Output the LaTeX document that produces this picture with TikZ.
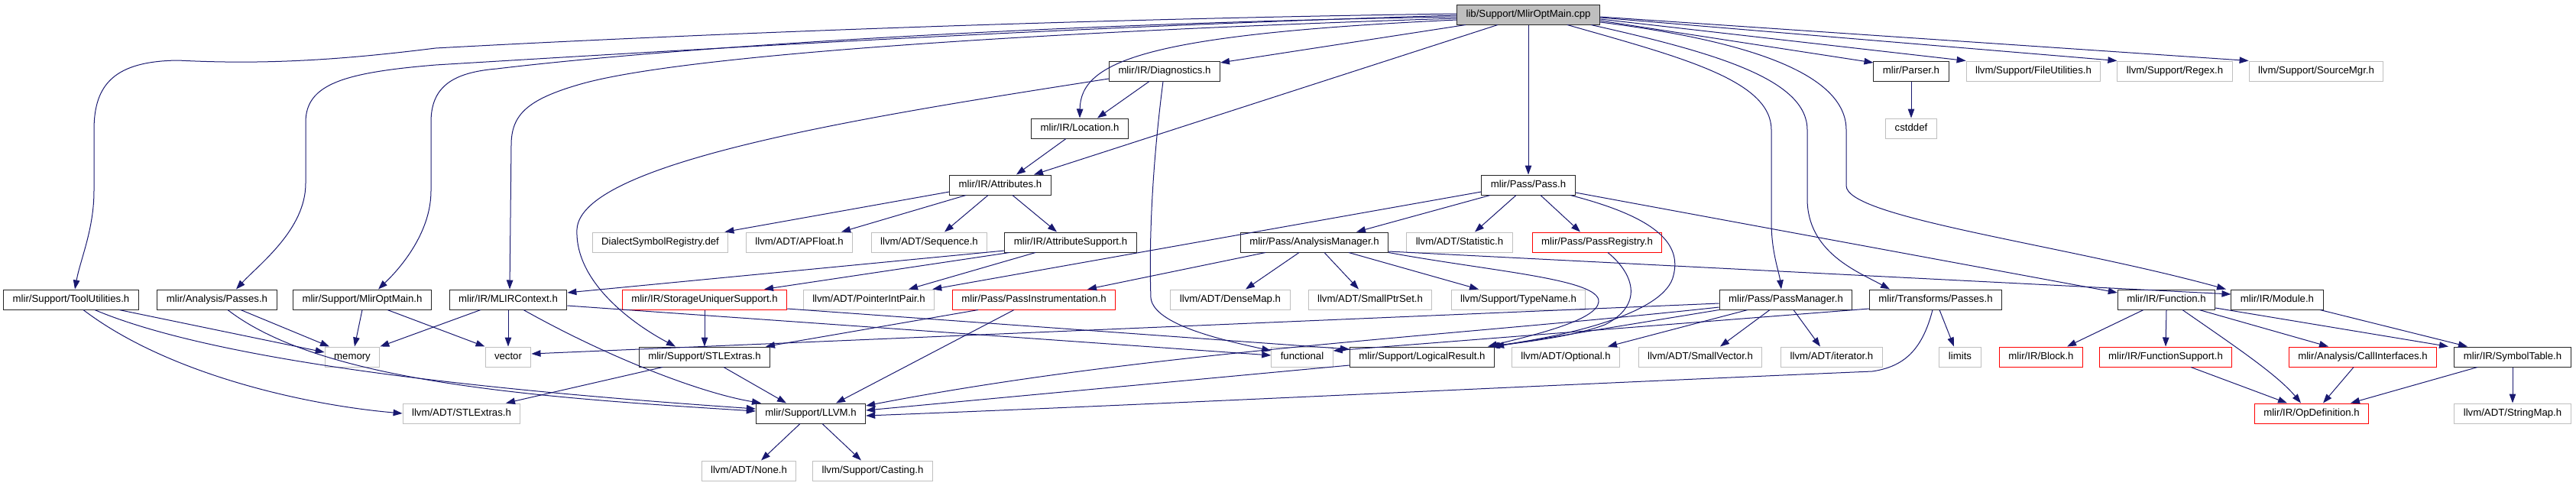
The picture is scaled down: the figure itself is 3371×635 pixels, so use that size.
\documentclass[tikz,border=0pt]{standalone}
\usepackage{fontspec}
\setmainfont{Liberation Sans}
\usetikzlibrary{arrows.meta}
\definecolor{edgecol}{HTML}{191970}
\definecolor{extgray}{HTML}{BFBFBF}
\begin{document}
\begin{tikzpicture}[x=1pt,y=-1pt,
  box/.style={rectangle, line width=1pt, inner xsep=12pt, inner ysep=0pt, minimum height=26pt,
    text height=9.6pt, text depth=2.6pt, font=\fontsize{13.2}{15}\selectfont},
  docn/.style={box, draw=black!85},
  extn/.style={box, draw=extgray},
  trn/.style={box, draw=red},
  rootn/.style={box, draw=black!85, fill=extgray},
  dep/.style={draw=edgecol, line width=1pt, -{Triangle[length=12pt,width=8.5pt]}}
]
\useasboundingbox (0,0) rectangle (3371,635);
% row 0
\node[rootn] (root) at (2000,19) {lib/Support/MlirOptMain.cpp};
% row 1
\node[docn] (diag) at (1524,93) {mlir/IR/Diagnostics.h};
\node[docn] (parser) at (2501,93) {mlir/Parser.h};
\node[extn] (fileutil) at (2661,93) {llvm/Support/FileUtilities.h};
\node[extn] (regex) at (2846,93) {llvm/Support/Regex.h};
\node[extn] (srcmgr) at (3031,93) {llvm/Support/SourceMgr.h};
% row 2
\node[docn] (loc) at (1413,168) {mlir/IR/Location.h};
\node[extn] (cstddef) at (2501,168) {cstddef};
% row 3
\node[docn] (attr) at (1309,242) {mlir/IR/Attributes.h};
\node[docn] (pass) at (2000,242) {mlir/Pass/Pass.h};
% row 4
\node[extn] (dsr) at (864,317) {DialectSymbolRegistry.def};
\node[extn] (apfloat) at (1046,317) {llvm/ADT/APFloat.h};
\node[extn] (seq) at (1216,317) {llvm/ADT/Sequence.h};
\node[docn] (attrsup) at (1401,317) {mlir/IR/AttributeSupport.h};
\node[docn] (anman) at (1720,317) {mlir/Pass/AnalysisManager.h};
\node[extn] (stat) at (1910,317) {llvm/ADT/Statistic.h};
\node[trn] (passreg) at (2090,317) {mlir/Pass/PassRegistry.h};
% row 5
\node[docn] (toolutil) at (93,392) {mlir/Support/ToolUtilities.h};
\node[docn] (anpasses) at (284,392) {mlir/Analysis/Passes.h};
\node[docn] (optmainh) at (474,392) {mlir/Support/MlirOptMain.h};
\node[docn] (ctx) at (665,392) {mlir/IR/MLIRContext.h};
\node[trn] (sus) at (922,392) {mlir/IR/StorageUniquerSupport.h};
\node[extn] (pip) at (1137,392) {llvm/ADT/PointerIntPair.h};
\node[trn] (pinst) at (1353,392) {mlir/Pass/PassInstrumentation.h};
\node[extn] (densemap) at (1610,392) {llvm/ADT/DenseMap.h};
\node[extn] (smallptr) at (1793,392) {llvm/ADT/SmallPtrSet.h};
\node[extn] (typename) at (1987,392) {llvm/Support/TypeName.h};
\node[docn] (passman) at (2337,392) {mlir/Pass/PassManager.h};
\node[docn] (tpasses) at (2533,392) {mlir/Transforms/Passes.h};
\node[docn] (func) at (2835,392) {mlir/IR/Function.h};
\node[docn] (module) at (2980,392) {mlir/IR/Module.h};
% row 6
\node[extn] (memory) at (461,467) {memory};
\node[extn] (vector) at (665,467) {vector};
\node[docn] (mstl) at (922,467) {mlir/Support/STLExtras.h};
\node[extn] (functional) at (1704,467) {functional};
\node[docn] (logres) at (1861,467) {mlir/Support/LogicalResult.h};
\node[extn] (optional) at (2049,467) {llvm/ADT/Optional.h};
\node[extn] (smallvec) at (2225,467) {llvm/ADT/SmallVector.h};
\node[extn] (iterator) at (2397,467) {llvm/ADT/iterator.h};
\node[extn] (limits) at (2565,467) {limits};
\node[trn] (block) at (2671,467) {mlir/IR/Block.h};
\node[trn] (funcsup) at (2834,467) {mlir/IR/FunctionSupport.h};
\node[trn] (callif) at (3092,467) {mlir/Analysis/CallInterfaces.h};
\node[docn] (symtab) at (3288,467) {mlir/IR/SymbolTable.h};
% row 7
\node[extn] (lstl) at (604,541) {llvm/ADT/STLExtras.h};
\node[docn] (llvm) at (1061,541) {mlir/Support/LLVM.h};
\node[trn] (opdef) at (3025,541) {mlir/IR/OpDefinition.h};
\node[extn] (strmap) at (3288,541) {llvm/ADT/StringMap.h};
% row 8
\node[extn] (none) at (980,616) {llvm/ADT/None.h};
\node[extn] (casting) at (1142,616) {llvm/Support/Casting.h};

% ---- edges from root
\draw[dep] ([yshift=1pt]root.west) .. controls (1400,25) and (900,45) .. (570,63)
  .. controls (450,78) and (350,85) .. (233,79) .. controls (150,80) and (123,110) .. (123,170)
  -- (123,250) .. controls (123,300) and (105,340) .. ([xshift=5pt]toolutil.north);
\draw[dep] ([yshift=-1pt]root.west) .. controls (1400,35) and (900,65) .. (570,85)
  .. controls (450,95) and (400,110) .. (400,160) -- (400,240)
  .. controls (400,300) and (340,345) .. ([xshift=25pt]anpasses.north);
\draw[dep] ([yshift=-3pt]root.west) .. controls (1400,30) and (900,60) .. (650,90)
  .. controls (590,95) and (564,115) .. (564,160) -- (564,250)
  .. controls (564,300) and (530,345) .. ([xshift=21pt]optmainh.north);
\draw[dep] ([yshift=-5pt]root.west) .. controls (1400,40) and (900,70) .. (760,110)
  .. controls (690,130) and (669,150) .. (669,190) -- ([xshift=2pt]ctx.north);
\draw[dep] ([xshift=-82pt]root.south) -- ([yshift=11pt]diag.east);
\draw[dep] ([yshift=-7pt]root.west) .. controls (1500,45) and (1414,80) .. (loc.north);
\draw[dep] ([xshift=-40pt]root.south) -- ([xshift=44pt]attr.north);
\draw[dep] (root.south) -- (pass.north);
\draw[dep] ([xshift=51pt]root.south) .. controls (2200,75) and (2318,105) .. (2318,170)
  -- (2318,290) .. controls (2318,330) and (2328,355) .. ([xshift=-6pt]passman.north);
\draw[dep] ([xshift=-12pt]root.south east) .. controls (2250,70) and (2365,105) .. (2365,170)
  -- (2365,260) .. controls (2365,330) and (2430,355) .. ([xshift=-60pt]tpasses.north);
\draw[dep] ([yshift=-10pt]root.east) .. controls (2300,55) and (2416,100) .. (2416,170)
  -- (2416,243) .. controls (2416,285) and (2700,320) .. ([xshift=-67pt]module.north);
\draw[dep] ([yshift=-8pt]root.east) -- ([yshift=11pt]parser.west);
\draw[dep] ([yshift=-6pt]root.east) -- (fileutil.north west);
\draw[dep] ([yshift=-4pt]root.east) -- (regex.north west);
\draw[dep] ([yshift=-3pt]root.east) -- (srcmgr.north west);
% ---- diagnostics, location, attributes
\draw[dep] ([xshift=-20pt]diag.south) -- ([xshift=23pt]loc.north);
\draw[dep] ([yshift=-10pt]diag.west) .. controls (1150,150) and (760,210) .. (755,300)
  .. controls (752,370) and (830,425) .. ([xshift=-38pt]mstl.north);
\draw[dep] ([xshift=-2pt]diag.south) .. controls (1510,200) and (1503,300) .. (1506,390)
  .. controls (1510,425) and (1600,445) .. ([yshift=8pt]functional.west);
\draw[dep] ([xshift=-18pt]loc.south) -- ([xshift=21pt]attr.north);
\draw[dep] ([yshift=-9pt]attr.west) -- ([xshift=-5pt]dsr.north east);
\draw[dep] ([xshift=-45pt]attr.south) -- ([xshift=-15pt]apfloat.north east);
\draw[dep] ([xshift=-16pt]attr.south) -- ([xshift=20pt]seq.north);
\draw[dep] ([xshift=16pt]attr.south) -- ([xshift=-18pt]attrsup.north);
\draw[dep] ([yshift=-11pt]attrsup.west) -- ([yshift=9pt]ctx.east);
\draw[dep] ([xshift=-80pt]attrsup.south) -- ([xshift=78pt]sus.north);
\draw[dep] ([xshift=-46pt]attrsup.south) -- ([xshift=52pt]pip.north);
% ---- pass
\draw[dep] ([yshift=-9pt]pass.west) -- ([xshift=-3pt]pip.north east);
\draw[dep] ([xshift=-50pt]pass.south) -- ([xshift=55pt]anman.north);
\draw[dep] ([xshift=-16pt]pass.south) -- ([xshift=20pt]stat.north);
\draw[dep] ([xshift=16pt]pass.south) -- ([xshift=-22pt]passreg.north);
\draw[dep] ([yshift=-10pt]pass.east) -- ([yshift=9pt]func.west);
\draw[dep] ([xshift=55pt]pass.south) .. controls (2170,285) and (2200,320) .. (2190,360)
  .. controls (2180,410) and (2050,440) .. ([xshift=88pt]logres.north);
% ---- analysis manager
\draw[dep] ([xshift=-64pt]anman.south) -- ([xshift=70pt]pinst.north);
\draw[dep] ([xshift=-20pt]anman.south) -- ([xshift=20pt]densemap.north);
\draw[dep] ([xshift=13pt]anman.south) -- ([xshift=-15pt]smallptr.north);
\draw[dep] ([xshift=45pt]anman.south) -- ([xshift=-52pt]typename.north);
\draw[dep] ([yshift=-12pt]anman.east) -- ([yshift=7pt]module.west);
\draw[dep] (anman.south east) .. controls (1950,355) and (2095,365) .. (2092,395)
  .. controls (2090,420) and (2000,440) .. ([xshift=86pt]logres.north);
\draw[dep] ([xshift=14pt]passreg.south) .. controls (2140,360) and (2150,400) .. (2100,425)
  .. controls (2060,440) and (2000,447) .. ([xshift=90pt]logres.north);
% ---- row 5 left
\draw[dep] (optmainh.south) -- ([xshift=3pt]memory.north);
\draw[dep] ([xshift=33pt]optmainh.south) -- (vector.north west);
\draw[dep] ([xshift=63pt]toolutil.south) -- ([yshift=6pt]memory.west);
\draw[dep] ([xshift=31pt]toolutil.south) .. controls (300,480) and (700,515) .. ([yshift=6pt]llvm.west);
\draw[dep] ([xshift=16pt]toolutil.south) .. controls (220,490) and (400,530) .. (lstl.west);
\draw[dep] ([xshift=31pt]anpasses.south) -- ([xshift=-30pt]memory.north);
\draw[dep] ([xshift=14pt]anpasses.south) .. controls (420,500) and (700,520) .. ([yshift=3pt]llvm.west);
\draw[dep] ([xshift=-36pt]ctx.south) -- (memory.north east);
\draw[dep] (ctx.south) -- (vector.north);
\draw[dep] ([xshift=20pt]ctx.south) .. controls (800,470) and (920,515) .. ([xshift=-65pt]llvm.north);
\draw[dep] ([yshift=-8pt]ctx.east) -- ([yshift=2pt]functional.west);
\draw[dep] (sus.south) -- (mstl.north);
\draw[dep] ([yshift=-12pt]sus.east) -- ([yshift=10pt]logres.west);
\draw[dep] ([xshift=-73pt]pinst.south) -- ([xshift=80pt]mstl.north);
\draw[dep] ([xshift=-26pt]pinst.south) -- ([xshift=33pt]llvm.north);
% ---- pass manager, transforms
\draw[dep] ([yshift=-5pt]passman.west) -- ([yshift=4pt]vector.east);
\draw[dep] (passman.south west) -- (logres.north east);
\draw[dep] ([xshift=-50pt]passman.south) -- ([xshift=55pt]optional.north);
\draw[dep] ([xshift=-21pt]passman.south) -- ([xshift=26pt]smallvec.north);
\draw[dep] ([xshift=10pt]passman.south) -- ([xshift=-15pt]iterator.north);
\draw[dep] ([yshift=-10pt]passman.west) .. controls (1900,440) and (1500,460) .. ([yshift=10pt]llvm.east);
\draw[dep] ([yshift=-12pt]tpasses.west) -- ([yshift=8pt]functional.east);
\draw[dep] ([xshift=-4pt]tpasses.south) .. controls (2515,460) and (2490,480) .. (2450,486)
  .. controls (2000,505) and (1500,530) .. ([yshift=-3pt]llvm.east);
\draw[dep] ([xshift=5pt]tpasses.south) -- ([xshift=-8pt]limits.north);
% ---- lower
\draw[dep] ([xshift=-55pt]mstl.south) -- ([xshift=58pt]lstl.north);
\draw[dep] ([xshift=25pt]mstl.south) -- ([xshift=-32pt]llvm.north);
\draw[dep] ([yshift=-11pt]logres.west) -- ([yshift=4pt]llvm.east);
\draw[dep] ([xshift=-14pt]llvm.south) -- ([xshift=16pt]none.north);
\draw[dep] ([xshift=15pt]llvm.south) -- ([xshift=-15pt]casting.north);
\draw[dep] (parser.south) -- (cstddef.north);
% ---- function, module
\draw[dep] ([xshift=-30pt]func.south) -- ([xshift=34pt]block.north);
\draw[dep] (func.south) -- (funcsup.north);
\draw[dep] ([xshift=21pt]func.south) .. controls (2920,450) and (2980,490) .. ([xshift=-14pt]opdef.north);
\draw[dep] ([xshift=43pt]func.south) -- ([xshift=-45pt]callif.north);
\draw[dep] ([yshift=-11pt]func.east) -- ([xshift=-84pt]symtab.north);
\draw[dep] ([xshift=56pt]module.south) -- ([xshift=-59pt]symtab.north);
\draw[dep] ([xshift=-46pt]symtab.south) -- ([xshift=51pt]opdef.north);
\draw[dep] (symtab.south) -- (strmap.north);
\draw[dep] ([xshift=33pt]funcsup.south) -- ([xshift=-32pt]opdef.north);
\draw[dep] ([xshift=-12pt]callif.south) -- ([xshift=15pt]opdef.north);
\end{tikzpicture}
\end{document}
